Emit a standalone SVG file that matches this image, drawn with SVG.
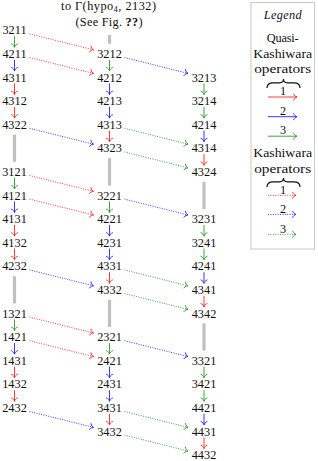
<svg xmlns="http://www.w3.org/2000/svg" width="318" height="461" viewBox="0 0 318 461" font-family="'Liberation Serif','DejaVu Serif',serif">
<defs>
<marker id="mr" markerUnits="userSpaceOnUse" orient="auto" refX="0" refY="0" markerWidth="10" markerHeight="10" overflow="visible"><path d="M-3.5,-3.4 C-2.8,-1.2 -1,-0.3 0,0 C-1,0.3 -2.8,1.2 -3.5,3.4" fill="none" stroke="#f22" stroke-width="0.9"/></marker>
<marker id="mb" markerUnits="userSpaceOnUse" orient="auto" refX="0" refY="0" markerWidth="10" markerHeight="10" overflow="visible"><path d="M-3.5,-3.4 C-2.8,-1.2 -1,-0.3 0,0 C-1,0.3 -2.8,1.2 -3.5,3.4" fill="none" stroke="#22f" stroke-width="0.9"/></marker>
<marker id="mg" markerUnits="userSpaceOnUse" orient="auto" refX="0" refY="0" markerWidth="10" markerHeight="10" overflow="visible"><path d="M-3.5,-3.4 C-2.8,-1.2 -1,-0.3 0,0 C-1,0.3 -2.8,1.2 -3.5,3.4" fill="none" stroke="#2a992a" stroke-width="0.9"/></marker>
</defs>
<style>
text{font-family:"Liberation Serif","DejaVu Serif",serif;font-size:12.3px;fill:#111;text-anchor:middle}
line{fill:none;stroke-width:0.9}
.r{stroke:#f22;marker-end:url(#mr)}
.b{stroke:#22f;marker-end:url(#mb)}
.g{stroke:#2a992a;marker-end:url(#mg)}
.d{stroke-dasharray:1 1.4}
.bar{stroke:#c0c0c0;stroke-width:3.2;marker-end:none}
.it{font-style:italic}
</style>
<rect width="318" height="461" fill="#fff"/>
<g id="title"><text x="108.5" y="10.2" textLength="95" lengthAdjust="spacing">to Γ(hypo<tspan font-size="8.6" dy="2">4</tspan><tspan dy="-2">, 2132)</tspan></text><text x="109" y="26" textLength="67" lengthAdjust="spacing">(See Fig. <tspan font-weight="bold">??</tspan>)</text></g>
<g id="nodes">
<g id="n3211"><text x="14.5" y="34.3">3211</text></g>
<g id="n4211"><text x="14.5" y="57.9">4211</text></g>
<g id="n4311"><text x="14.5" y="81.5">4311</text></g>
<g id="n4312"><text x="14.5" y="105.1">4312</text></g>
<g id="n4322"><text x="14.5" y="128.7">4322</text></g>
<g id="n3121"><text x="14.5" y="175.9">3121</text></g>
<g id="n4121"><text x="14.5" y="199.5">4121</text></g>
<g id="n4131"><text x="14.5" y="223.1">4131</text></g>
<g id="n4132"><text x="14.5" y="246.7">4132</text></g>
<g id="n4232"><text x="14.5" y="270.3">4232</text></g>
<g id="n1321"><text x="14.5" y="317.5">1321</text></g>
<g id="n1421"><text x="14.5" y="341.1">1421</text></g>
<g id="n1431"><text x="14.5" y="364.7">1431</text></g>
<g id="n1432"><text x="14.5" y="388.3">1432</text></g>
<g id="n2432"><text x="14.5" y="411.9">2432</text></g>
<g id="n3212"><text x="109.5" y="57.9">3212</text></g>
<g id="n4212"><text x="109.5" y="81.5">4212</text></g>
<g id="n4213"><text x="109.5" y="105.1">4213</text></g>
<g id="n4313"><text x="109.5" y="128.7">4313</text></g>
<g id="n4323"><text x="109.5" y="152.3">4323</text></g>
<g id="n3221"><text x="109.5" y="199.5">3221</text></g>
<g id="n4221"><text x="109.5" y="223.1">4221</text></g>
<g id="n4231"><text x="109.5" y="246.7">4231</text></g>
<g id="n4331"><text x="109.5" y="270.3">4331</text></g>
<g id="n4332"><text x="109.5" y="293.9">4332</text></g>
<g id="n2321"><text x="109.5" y="341.1">2321</text></g>
<g id="n2421"><text x="109.5" y="364.7">2421</text></g>
<g id="n2431"><text x="109.5" y="388.3">2431</text></g>
<g id="n3431"><text x="109.5" y="411.9">3431</text></g>
<g id="n3432"><text x="109.5" y="435.5">3432</text></g>
<g id="n3213"><text x="204" y="81.5">3213</text></g>
<g id="n3214"><text x="204" y="105.1">3214</text></g>
<g id="n4214"><text x="204" y="128.7">4214</text></g>
<g id="n4314"><text x="204" y="152.3">4314</text></g>
<g id="n4324"><text x="204" y="175.9">4324</text></g>
<g id="n3231"><text x="204" y="223.1">3231</text></g>
<g id="n3241"><text x="204" y="246.7">3241</text></g>
<g id="n4241"><text x="204" y="270.3">4241</text></g>
<g id="n4341"><text x="204" y="293.9">4341</text></g>
<g id="n4342"><text x="204" y="317.5">4342</text></g>
<g id="n3321"><text x="204" y="364.7">3321</text></g>
<g id="n3421"><text x="204" y="388.3">3421</text></g>
<g id="n4421"><text x="204" y="411.9">4421</text></g>
<g id="n4431"><text x="204" y="435.5">4431</text></g>
<g id="n4432"><text x="204" y="459.1">4432</text></g>
</g>
<g id="connectors">
<line class="bar" x1="14.5" y1="134.6" x2="14.5" y2="161.8"/>
<line class="bar" x1="14.5" y1="276.2" x2="14.5" y2="303.4"/>
<line class="bar" x1="109.5" y1="35" x2="109.5" y2="43.8"/>
<line class="bar" x1="109.5" y1="158.2" x2="109.5" y2="185.4"/>
<line class="bar" x1="109.5" y1="299.8" x2="109.5" y2="327"/>
<line class="bar" x1="204" y1="181.8" x2="204" y2="209"/>
<line class="bar" x1="204" y1="323.4" x2="204" y2="350.6"/>
<line class="g" x1="14.5" y1="36.2" x2="14.5" y2="47.3"/>
<line class="b" x1="14.5" y1="59.8" x2="14.5" y2="70.9"/>
<line class="r" x1="14.5" y1="83.4" x2="14.5" y2="94.5"/>
<line class="r" x1="14.5" y1="107" x2="14.5" y2="118.1"/>
<line class="g" x1="14.5" y1="177.8" x2="14.5" y2="188.9"/>
<line class="b" x1="14.5" y1="201.4" x2="14.5" y2="212.5"/>
<line class="r" x1="14.5" y1="225" x2="14.5" y2="236.1"/>
<line class="r" x1="14.5" y1="248.6" x2="14.5" y2="259.7"/>
<line class="g" x1="14.5" y1="319.4" x2="14.5" y2="330.5"/>
<line class="b" x1="14.5" y1="343" x2="14.5" y2="354.1"/>
<line class="r" x1="14.5" y1="366.6" x2="14.5" y2="377.7"/>
<line class="r" x1="14.5" y1="390.2" x2="14.5" y2="401.3"/>
<line class="g" x1="109.5" y1="59.8" x2="109.5" y2="70.9"/>
<line class="b" x1="109.5" y1="83.4" x2="109.5" y2="94.5"/>
<line class="b" x1="109.5" y1="107" x2="109.5" y2="118.1"/>
<line class="r" x1="109.5" y1="130.6" x2="109.5" y2="141.7"/>
<line class="g" x1="109.5" y1="201.4" x2="109.5" y2="212.5"/>
<line class="b" x1="109.5" y1="225" x2="109.5" y2="236.1"/>
<line class="b" x1="109.5" y1="248.6" x2="109.5" y2="259.7"/>
<line class="r" x1="109.5" y1="272.2" x2="109.5" y2="283.3"/>
<line class="g" x1="109.5" y1="343" x2="109.5" y2="354.1"/>
<line class="b" x1="109.5" y1="366.6" x2="109.5" y2="377.7"/>
<line class="b" x1="109.5" y1="390.2" x2="109.5" y2="401.3"/>
<line class="r" x1="109.5" y1="413.8" x2="109.5" y2="424.9"/>
<line class="g" x1="204" y1="83.4" x2="204" y2="94.5"/>
<line class="g" x1="204" y1="107" x2="204" y2="118.1"/>
<line class="b" x1="204" y1="130.6" x2="204" y2="141.7"/>
<line class="r" x1="204" y1="154.2" x2="204" y2="165.3"/>
<line class="g" x1="204" y1="225" x2="204" y2="236.1"/>
<line class="g" x1="204" y1="248.6" x2="204" y2="259.7"/>
<line class="b" x1="204" y1="272.2" x2="204" y2="283.3"/>
<line class="r" x1="204" y1="295.8" x2="204" y2="306.9"/>
<line class="g" x1="204" y1="366.6" x2="204" y2="377.7"/>
<line class="g" x1="204" y1="390.2" x2="204" y2="401.3"/>
<line class="b" x1="204" y1="413.8" x2="204" y2="424.9"/>
<line class="r" x1="204" y1="437.4" x2="204" y2="448.5"/>
<line class="r d" x1="29.5" y1="33.9" x2="93.5" y2="49.8"/>
<line class="r d" x1="29.5" y1="57.5" x2="93.5" y2="73.4"/>
<line class="b d" x1="29.5" y1="128.3" x2="93.5" y2="144.2"/>
<line class="r d" x1="29.5" y1="175.5" x2="93.5" y2="191.4"/>
<line class="r d" x1="29.5" y1="199.1" x2="93.5" y2="215"/>
<line class="b d" x1="29.5" y1="269.9" x2="93.5" y2="285.8"/>
<line class="r d" x1="29.5" y1="317.1" x2="93.5" y2="333"/>
<line class="r d" x1="29.5" y1="340.7" x2="93.5" y2="356.6"/>
<line class="b d" x1="29.5" y1="411.5" x2="93.5" y2="427.4"/>
<line class="b d" x1="124.5" y1="57.5" x2="188" y2="73.4"/>
<line class="g d" x1="124.5" y1="128.3" x2="188" y2="144.2"/>
<line class="g d" x1="124.5" y1="151.9" x2="188" y2="167.8"/>
<line class="b d" x1="124.5" y1="199.1" x2="188" y2="215"/>
<line class="g d" x1="124.5" y1="269.9" x2="188" y2="285.8"/>
<line class="g d" x1="124.5" y1="293.5" x2="188" y2="309.4"/>
<line class="b d" x1="124.5" y1="340.7" x2="188" y2="356.6"/>
<line class="g d" x1="124.5" y1="411.5" x2="188" y2="427.4"/>
<line class="g d" x1="124.5" y1="435.1" x2="188" y2="451"/>
</g>
<g id="legend">
<rect x="251" y="2.5" width="63.5" height="246.5" fill="#fff" stroke="#c8c8c8" stroke-width="1"/>
<text class="it" x="282.7" y="19" textLength="38" lengthAdjust="spacing">Legend</text>
<text x="282.7" y="41.5" textLength="32" lengthAdjust="spacing">Quasi-</text>
<text x="282.7" y="57.8" textLength="59" lengthAdjust="spacingAndGlyphs">Kashiwara</text>
<text x="282.7" y="73.3" textLength="57" lengthAdjust="spacingAndGlyphs">operators</text>
<path d="M267,88 C267,84.5 269,82.8 273,82.8 L279.5,82.8 C282,82.8 283.5,81.3 283.5,79 C283.5,81.3 285,82.8 287.5,82.8 L294,82.8 C298,82.8 300,84.5 300,88" fill="none" stroke="#111" stroke-width="1.2"/>
<text x="283" y="95.3">1</text>
<line class="r" x1="268" y1="97" x2="297" y2="97"/>
<text x="283" y="114.8">2</text>
<line class="b" x1="268" y1="116.7" x2="297" y2="116.7"/>
<text x="283" y="134.3">3</text>
<line class="g" x1="268" y1="136.2" x2="297" y2="136.2"/>
<text x="282.7" y="157.3" textLength="59" lengthAdjust="spacingAndGlyphs">Kashiwara</text>
<text x="282.7" y="172.5" textLength="57" lengthAdjust="spacingAndGlyphs">operators</text>
<path d="M267,187 C267,183.5 269,181.8 273,181.8 L279.5,181.8 C282,181.8 283.5,180.3 283.5,178 C283.5,180.3 285,181.8 287.5,181.8 L294,181.8 C298,181.8 300,183.5 300,187" fill="none" stroke="#111" stroke-width="1.2"/>
<text x="283" y="193.6">1</text>
<line class="r d" x1="268" y1="195.3" x2="296" y2="195.3"/>
<text x="283" y="212.8">2</text>
<line class="b d" x1="268" y1="214.4" x2="296" y2="214.4"/>
<text x="283" y="232.7">3</text>
<line class="g d" x1="268" y1="234.3" x2="296" y2="234.3"/>
</g>
</svg>
